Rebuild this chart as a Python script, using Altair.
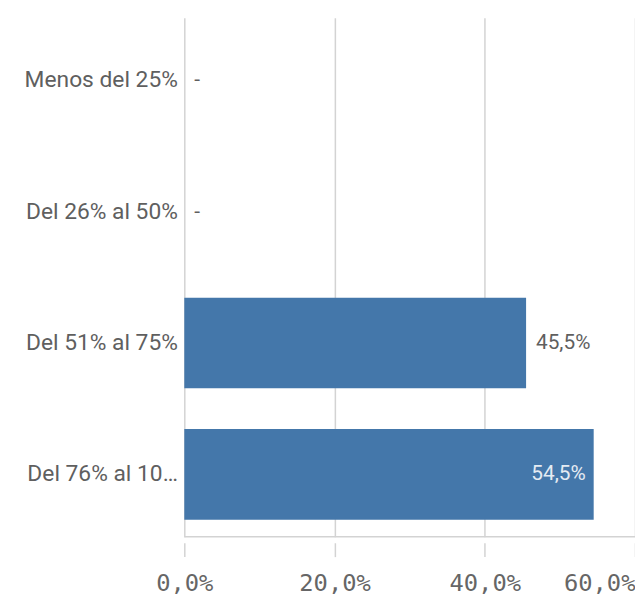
import altair as alt
import pandas as pd

categories = ["Menos del 25%", "Del 26% al 50%", "Del 51% al 75%", "Del 76% al 100%"]
values = [None, None, 0.455, 0.545]
labels = ["-", "-", "45,5%", "54,5%"]
tick_values = [0.0, 0.2, 0.4, 0.6]

df = pd.DataFrame({"cat": categories, "value": values, "label": labels})
df["xpos"] = df["value"].fillna(0)

W, H = 455, 524
grid_col = "#d3d3d3"
text_col = "#5f5f5f"

y_enc = alt.Y("cat:N", sort=categories, title=None,
              scale=alt.Scale(paddingInner=0.31, paddingOuter=0.13),
              axis=alt.Axis(labelFontSize=23, labelFont="Roboto", labelColor=text_col,
                            labelLimit=158, labelPadding=7, ticks=False, domain=False))
x_enc = alt.X("xpos:Q", title=None,
              scale=alt.Scale(domain=[0, 0.6], nice=False),
              axis=alt.Axis(values=tick_values, grid=True, gridColor=grid_col, gridWidth=1.5,
                            domain=False, tickColor=grid_col, tickWidth=1.5, tickSize=14,
                            offset=6, labelPadding=15,
                            labelFont="DejaVu Sans Mono", labelFontSize=24, labelColor="#666666",
                            labelAlign=alt.expr("datum.value >= 0.6 ? 'right' : 'center'"),
                            labelExpr="replace(format(datum.value, '.1%'), '.', ',')"))

base = alt.Chart(df)

bars = base.mark_bar(color="#4477aa").encode(
    y=y_enc,
    x=alt.X("value:Q", scale=alt.Scale(domain=[0, 0.6], nice=False)),
)

outside = base.transform_filter("!(datum.value > 0.5)").mark_text(
    align="left", dx=10, fontSize=21, font="Roboto", color=text_col, baseline="middle"
).encode(y=alt.Y("cat:N", sort=categories), x="xpos:Q", text="label:N")

inside = base.transform_filter("datum.value > 0.5").mark_text(
    align="right", dx=-8, fontSize=21, font="Roboto", color="#e4ebf3", baseline="middle"
).encode(y=alt.Y("cat:N", sort=categories), x="xpos:Q", text="label:N")

axis_layer = base.mark_point(opacity=0).encode(y=y_enc, x=x_enc)

bottom_line = alt.Chart(pd.DataFrame({"a": [0]})).mark_rule(
    color=grid_col, strokeWidth=1.5
).encode(x=alt.value(0), x2=alt.value(W), y=alt.value(H))

chart = alt.layer(axis_layer, bars, outside, inside, bottom_line).properties(
    width=W, height=H,
    autosize=alt.AutoSizeParams(type="none"),
    padding={"left": 178, "top": 7, "right": 0, "bottom": 70},
).configure_view(stroke=None)

chart.save("out.html", embed_options={"renderer": "svg", "actions": False})
